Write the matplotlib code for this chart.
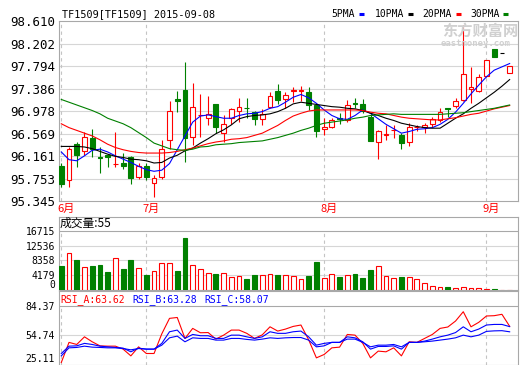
#!/usr/bin/env python3

import numpy as np
import matplotlib
matplotlib.use("Agg")
import matplotlib.pyplot as plt
import matplotlib.transforms as mtrans
from matplotlib.lines import Line2D

# ----------------------------------------------------------
# data : TF1509 daily, 2015-06-15 .. 2015-09-08
# ----------------------------------------------------------
month_pos = [0, 11, 34, 55]
month_lbl = ["6月", "7月", "8月", "9月"]

opens = [95.987, 95.735, 96.384, 96.253, 96.493, 96.155, 96.186, 96.015, 96.036, 96.144,
         95.783, 95.987, 95.675, 95.783, 96.457, 97.190, 97.359, 96.505, 96.900, 96.848,
         97.101, 96.577, 96.848, 96.986, 97.040, 96.957, 96.836, 97.047, 97.341, 97.197,
         97.350, 97.350, 97.320, 97.088, 96.655, 96.686, 96.855, 96.818, 97.125, 97.101,
         96.877, 96.426, 96.555, 96.630, 96.547, 96.426, 96.685, 96.690, 96.746, 96.818,
         97.035, 97.070, 97.179, 97.372, 97.347, 97.612, 98.112, 98.022, 97.661]
highs = [96.036, 96.336, 96.426, 96.606, 96.655, 96.336, 96.204, 96.606, 96.218, 96.168,
         96.036, 96.036, 95.825, 96.457, 97.166, 97.347, 97.870, 97.480, 97.282, 97.256,
         97.107, 96.908, 97.029, 97.220, 97.209, 96.980, 97.016, 97.329, 97.462, 97.329,
         97.419, 97.431, 97.419, 97.130, 96.848, 96.859, 96.939, 97.179, 97.209, 97.197,
         96.944, 96.637, 96.720, 96.727, 96.577, 96.758, 96.730, 96.770, 96.866, 97.029,
         97.035, 97.209, 98.533, 97.780, 97.648, 97.913, 98.112, 98.022, 97.793]
lows = [95.613, 95.613, 95.964, 96.186, 96.144, 95.866, 95.975, 95.975, 95.928, 95.662,
        95.758, 95.735, 95.422, 95.747, 96.289, 96.960, 96.054, 96.366, 96.516, 96.727,
        96.577, 96.415, 96.746, 96.787, 96.848, 96.727, 96.727, 97.029, 97.101, 97.029,
        97.137, 97.161, 96.998, 96.516, 96.547, 96.668, 96.740, 96.776, 97.029, 96.939,
        96.430, 96.108, 96.457, 96.487, 96.289, 96.348, 96.620, 96.590, 96.686, 96.787,
        96.877, 97.029, 97.166, 97.130, 97.329, 97.599, 97.950, 98.022, 97.661]
closes = [95.662, 96.289, 96.191, 96.516, 96.289, 96.132, 96.155, 96.030, 95.993, 95.776,
          95.993, 95.783, 95.771, 96.300, 96.986, 97.170, 96.487, 97.047, 96.915, 96.921,
          96.697, 96.740, 97.016, 97.047, 97.029, 96.836, 96.921, 97.256, 97.179, 97.269,
          97.359, 97.360, 97.095, 96.619, 96.697, 96.818, 96.845, 97.088, 97.115, 96.980,
          96.445, 96.619, 96.565, 96.640, 96.408, 96.686, 96.695, 96.725, 96.830, 96.968,
          97.025, 97.161, 97.643, 97.408, 97.589, 97.913, 97.950, 98.022, 97.793]
volumes = [6920, 10570, 8360, 6630, 6920, 7200, 4990, 9130, 5960, 8360,
           6250, 4320, 5380, 7690, 7690, 5480, 14700, 7200, 5960, 4900,
           4610, 4900, 3660, 3950, 3170, 4320, 4320, 4520, 4320, 4320,
           3950, 3080, 4035, 8070, 3370, 4520, 3750, 4230, 4610, 3460,
           5760, 6820, 3950, 3370, 3750, 3660, 3080, 2020, 1070, 950,
           865, 490, 780, 490, 490, 200, 150, 100, 55]

ma5 = [96.24, 96.10, 96.08, 96.17, 96.27, 96.29, 96.24, 96.17, 96.11, 96.05,
       95.98, 95.92, 95.89, 95.91, 96.03, 96.28, 96.53, 96.78, 96.89, 96.91,
       96.88, 96.85, 96.85, 96.90, 96.93, 96.94, 96.97, 97.03, 97.06, 97.14,
       97.23, 97.28, 97.22, 97.12, 97.00, 96.90, 96.84, 96.83, 96.90, 97.00,
       96.94, 96.84, 96.74, 96.66, 96.58, 96.61, 96.65, 96.66, 96.68, 96.74,
       96.83, 96.96, 97.12, 97.29, 97.45, 97.60, 97.72, 97.78, 97.84]
ma10 = [96.34, 96.34, 96.34, 96.33, 96.30, 96.25, 96.20, 96.16, 96.14, 96.11,
        96.10, 96.08, 96.04, 96.05, 96.13, 96.18, 96.26, 96.31, 96.40, 96.48,
        96.57, 96.64, 96.73, 96.84, 96.88, 96.90, 96.91, 96.93, 96.97, 97.03,
        97.11, 97.14, 97.12, 97.10, 97.08, 97.06, 97.05, 97.03, 97.02, 96.99,
        96.94, 96.90, 96.85, 96.81, 96.76, 96.73, 96.70, 96.68, 96.67, 96.67,
        96.76, 96.85, 96.93, 97.03, 97.12, 97.22, 97.32, 97.43, 97.55]
ma20 = [96.75, 96.68, 96.63, 96.58, 96.53, 96.46, 96.38, 96.32, 96.28, 96.25,
        96.23, 96.22, 96.22, 96.22, 96.23, 96.25, 96.28, 96.31, 96.35, 96.39,
        96.42, 96.44, 96.47, 96.48, 96.50, 96.54, 96.58, 96.65, 96.72, 96.81,
        96.89, 96.94, 96.98, 97.00, 97.00, 97.00, 97.00, 97.00, 97.00, 96.99,
        96.96, 96.94, 96.93, 96.90, 96.87, 96.85, 96.84, 96.83, 96.82, 96.82,
        96.84, 96.86, 96.89, 96.92, 96.94, 96.98, 97.02, 97.05, 97.08]
ma30 = [97.19, 97.14, 97.09, 97.04, 96.99, 96.93, 96.85, 96.80, 96.75, 96.68,
        96.59, 96.50, 96.40, 96.35, 96.30, 96.28, 96.27, 96.29, 96.33, 96.34,
        96.37, 96.38, 96.39, 96.41, 96.42, 96.43, 96.44, 96.47, 96.50, 96.54,
        96.58, 96.63, 96.67, 96.72, 96.76, 96.78, 96.80, 96.82, 96.85, 96.87,
        96.90, 96.91, 96.92, 96.93, 96.92, 96.92, 96.92, 96.92, 96.92, 96.92,
        96.93, 96.94, 96.95, 96.97, 96.99, 97.01, 97.03, 97.06, 97.09]

rsi_a = [27.1, 47.4, 45.3, 53.0, 48.0, 43.9, 43.6, 43.6, 40.6, 33.8,
         42.9, 36.2, 36.2, 56.0, 71.6, 72.5, 51.4, 61.5, 57.1, 57.3,
         50.7, 54.7, 59.8, 59.8, 56.5, 51.4, 55.0, 63.1, 58.8, 60.8,
         63.5, 64.9, 50.0, 31.8, 35.2, 41.9, 42.6, 55.4, 54.7, 46.4,
         31.8, 38.6, 37.9, 41.9, 33.8, 48.0, 47.4, 51.4, 55.4, 61.5,
         62.9, 68.9, 78.3, 63.1, 67.6, 74.0, 74.3, 75.7, 63.62]
rsi_b = [36.2, 43.6, 43.9, 46.4, 45.3, 43.6, 42.9, 42.3, 41.6, 37.9,
         41.6, 40.6, 40.6, 46.4, 58.1, 59.8, 51.4, 55.4, 54.1, 54.1,
         51.4, 51.4, 54.7, 54.7, 53.0, 51.4, 53.0, 58.1, 56.5, 56.5,
         58.1, 58.8, 53.0, 44.6, 46.4, 47.4, 47.4, 53.0, 52.0, 48.0,
         40.6, 43.3, 43.3, 43.9, 40.6, 47.4, 47.4, 48.7, 50.7, 53.0,
         54.7, 57.3, 63.1, 58.1, 60.8, 64.9, 65.5, 65.5, 63.28]
rsi_c = [33.8, 41.9, 42.3, 43.6, 42.6, 42.3, 41.9, 41.9, 41.2, 39.9,
         41.2, 40.6, 40.6, 44.6, 52.0, 53.7, 48.0, 52.0, 51.4, 51.4,
         49.7, 49.7, 51.4, 51.4, 50.4, 49.7, 50.7, 52.0, 51.4, 52.0,
         52.3, 52.3, 49.7, 42.9, 43.9, 47.4, 47.4, 50.7, 50.7, 47.4,
         42.9, 44.6, 44.6, 45.3, 42.9, 47.4, 47.4, 48.0, 48.7, 49.7,
         50.7, 52.0, 54.7, 53.0, 54.7, 58.5, 59.0, 59.2, 58.07]

price_ticks = [95.345, 95.753, 96.161, 96.569, 96.978, 97.386, 97.794, 98.202, 98.610]
vol_ticks = [0, 4179, 8358, 12536, 16715]
rsi_ticks = [25.11, 54.74, 84.37]

title_txt = "TF1509[TF1509] 2015-09-08"
ma_names = ["5PMA", "10PMA", "20PMA", "30PMA"]
vol_title = "成交量:55"
rsi_names = ["RSI_A:63.62", "RSI_B:63.28", "RSI_C:58.07"]

# ----------------------------------------------------------
# style
# ----------------------------------------------------------
W, H = 520, 365
RED, GREEN, BLUE = "#ff0000", "#008000", "#0000ff"
FRAME = "#a8a8a8"
GRID = "#d6d6d6"
DASH = "#c4c4c4"
MONO = "DejaVu Sans Mono"
CJK = ["Noto Sans CJK SC", "DejaVu Sans"]


def fx(px):
    return px / W


def fy(py):
    return 1.0 - py / H


def box(x0, y0, x1, y1):
    return [fx(x0), fy(y1), fx(x1) - fx(x0), fy(y0) - fy(y1)]


fig = plt.figure(figsize=(W / 100, H / 100), dpi=100)
ax1 = fig.add_axes(box(58.5, 21, 518, 201.4))
ax2 = fig.add_axes(box(58.5, 216.5, 518, 290))
ax3 = fig.add_axes(box(58.5, 291, 518, 364.5))

x = np.arange(len(closes))
o = np.array(opens)
c = np.array(closes)
col = np.where(c > o, RED, np.where(c < o, GREEN, "black"))
face = np.where(c > o, "white", col)
vcol = np.where(c >= o, RED, GREEN)
vface = np.where(c >= o, "white", GREEN)

XL = (-0.36, 59.08)
for ax in (ax1, ax2, ax3):
    ax.set_xlim(*XL)
    ax.set_xticks([])
    ax.tick_params(axis="y", length=0, pad=2.5)
    for s in ax.spines.values():
        s.set_color(FRAME)
        s.set_linewidth(0.8)

# ----------------------------------------------------------
# price panel
# ----------------------------------------------------------
ax1.set_ylim(price_ticks[0], price_ticks[-1])
ax1.set_yticks(price_ticks, labels=[f"{v:.3f}" for v in price_ticks])
for t in ax1.get_yticklabels():
    t.set_family(MONO)
    t.set_fontsize(9)
ax1.hlines(price_ticks[1:-1], *XL, color=GRID, lw=0.8, zorder=0)
for m in month_pos:
    ax1.axvline(m, color=DASH, lw=0.8, ls=(0, (3, 3)), zorder=1)

ax1.vlines(x, lows, highs, colors=col, lw=0.8, zorder=3)
ax1.bar(x, np.maximum(np.abs(c - o), 1e-4), bottom=np.minimum(o, c), width=0.62,
        color=face, edgecolor=col, lw=0.8, zorder=4)

ax1.plot(x, ma5, color=BLUE, lw=0.8, zorder=5)
ax1.plot(x, ma10, color="black", lw=0.8, zorder=5)
ax1.plot(x, ma20, color=RED, lw=0.8, zorder=5)
ax1.plot(x, ma30, color=GREEN, lw=0.8, zorder=5)

trans = mtrans.blended_transform_factory(ax1.transData, fig.transFigure)
for m, lbl in zip(month_pos, month_lbl):
    ax1.text(m - 0.45, fy(209), lbl, color=RED, fontsize=8, family=CJK,
             ha="left", va="center", transform=trans, clip_on=False)

fig.text(fx(61.5), fy(14), title_txt, fontsize=7.3, family=MONO, va="center")

leg_x = [331.7, 375, 422.3, 470]
leg_dash = [359, 408.3, 456, 503.3]
for name, lx, dx, cc in zip(ma_names, leg_x, leg_dash, [BLUE, "black", RED, GREEN]):
    fig.text(fx(lx), fy(14), name, fontsize=7, family=MONO, va="center")
    fig.add_artist(Line2D([fx(dx), fx(dx + 5)], [fy(14), fy(14)], color=cc, lw=2.2,
                          transform=fig.transFigure, solid_capstyle="butt"))

# watermark
fig.text(fx(480), fy(31), "东方财富网", color="#d0d0d0", fontsize=11, weight="bold",
         family=CJK, ha="center", va="center")
fig.text(fx(476), fy(43.5), "eastmoney.com", color="#d0d0d0", fontsize=6.5,
         weight="bold", family=MONO, ha="center", va="center")

# ----------------------------------------------------------
# volume panel
# ----------------------------------------------------------
ax2.set_ylim(0, vol_ticks[-1] * 73.5 / 59)
ax2.set_yticks(vol_ticks, labels=[str(v) for v in vol_ticks])
for t in ax2.get_yticklabels():
    t.set_family(MONO)
    t.set_fontsize(7)
ax2.yaxis.get_major_ticks()[0].label1.set_va("bottom")
ax2.hlines(vol_ticks[1:-1], *XL, color=GRID, lw=0.8, zorder=0)
ax2.hlines(vol_ticks[-1], *XL, color=FRAME, lw=0.8, zorder=0)
ax2.vlines(month_pos, 0, vol_ticks[-1], color=DASH, lw=0.8, ls=(0, (3, 3)), zorder=1)
ax2.bar(x, volumes, width=0.62, color=vface, edgecolor=vcol, lw=0.8, zorder=3)
fig.text(fx(60), fy(223.5), vol_title, fontsize=8.5, family=CJK, va="center")

# ----------------------------------------------------------
# RSI panel
# ----------------------------------------------------------
span = (rsi_ticks[-1] - rsi_ticks[0]) / (364.5 - 305.7)
ax3.set_ylim(rsi_ticks[0], rsi_ticks[-1] + (305.7 - 291) * span)
ax3.set_yticks(rsi_ticks, labels=[f"{v:.2f}" for v in rsi_ticks])
for t in ax3.get_yticklabels():
    t.set_family(MONO)
    t.set_fontsize(7)
ax3.yaxis.get_major_ticks()[0].label1.set_va("bottom")
ax3.hlines(rsi_ticks[1], *XL, color=GRID, lw=0.8, zorder=0)
ax3.hlines(rsi_ticks[-1], *XL, color=FRAME, lw=0.8, zorder=0)
ax3.vlines(month_pos, rsi_ticks[0], rsi_ticks[-1], color=DASH, lw=0.8,
           ls=(0, (3, 3)), zorder=1)
ax3.plot(x, rsi_a, color=RED, lw=0.8, zorder=3)
ax3.plot(x, rsi_b, color=BLUE, lw=0.8, zorder=3)
ax3.plot(x, rsi_c, color=BLUE, lw=0.8, zorder=3)

for name, lx, cc in zip(rsi_names, [60, 132.5, 204], [RED, BLUE, BLUE]):
    fig.text(fx(lx), fy(299.5), name, fontsize=7, family=MONO, color=cc, va="center")

fig.savefig("out.png", dpi=100)
